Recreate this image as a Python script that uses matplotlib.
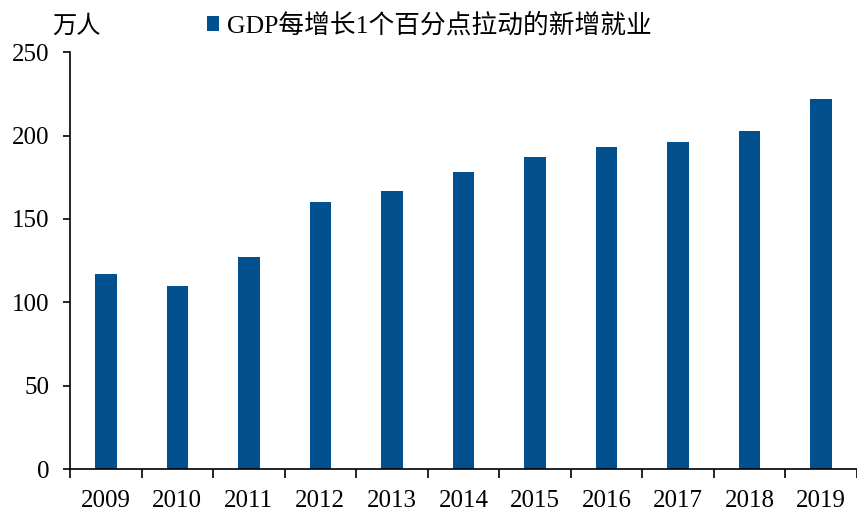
import matplotlib.pyplot as plt
import numpy as np
from matplotlib.ticker import FixedLocator, NullFormatter

plt.rcParams["font.family"] = ["Liberation Serif", "Noto Sans CJK SC"]

# data (万人)
years = ["2009", "2010", "2011", "2012", "2013", "2014",
         "2015", "2016", "2017", "2018", "2019"]
jobs = [117, 110, 127, 160, 167, 178, 187, 193, 196, 203, 222]

bar_color = "#03508f"

fig = plt.figure(figsize=(8.57, 5.11), dpi=100)
ax = fig.add_axes([0.0817, 0.082, 0.918, 0.816])

x = np.arange(len(years))
ax.bar(x, jobs, width=0.3, color=bar_color, label="GDP每增长1个百分点拉动的新增就业")

ax.set_xlim(-0.5, len(years) - 0.5)
ax.set_ylim(0, 250)
ax.set_yticks([0, 50, 100, 150, 200, 250])

# ticks on category boundaries, labels at category centres
ax.xaxis.set_major_locator(FixedLocator(np.arange(-0.5, len(years), 1.0)))
ax.xaxis.set_major_formatter(NullFormatter())
ax.xaxis.set_minor_locator(FixedLocator(x))
ax.set_xticklabels(years, minor=True)
ax.tick_params(axis="x", which="major", direction="out", length=6.5, width=1.2)
ax.tick_params(axis="x", which="minor", length=0, pad=15, labelsize=18)
ax.tick_params(axis="y", direction="out", length=5, width=1.2, pad=10, labelsize=18)

for s in ["top", "right"]:
    ax.spines[s].set_visible(False)
for s in ["left", "bottom"]:
    ax.spines[s].set_linewidth(1.2)

ax.legend(loc="upper left", bbox_to_anchor=(0.226, 1.0), bbox_transform=fig.transFigure,
          frameon=False, fontsize=18.5, handlelength=0.5, handleheight=0.5,
          handletextpad=0.3, borderaxespad=0.1)

fig.text(0.061, 0.948, "万人", fontsize=17.5, ha="left", va="center")

plt.savefig("out.png", dpi=100)
